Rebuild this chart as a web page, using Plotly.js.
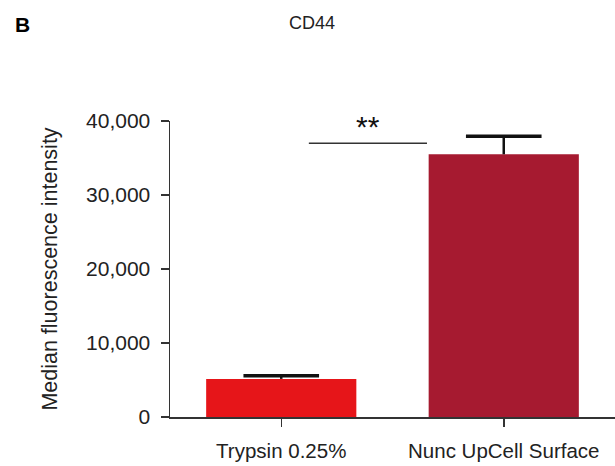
<!DOCTYPE html>
<html>
<head>
<meta charset="utf-8">
<script src="https://cdn.plot.ly/plotly-3.0.1.min.js"></script>
<style>html,body{margin:0;padding:0;background:#fff;}#chart{width:615px;height:466px;}</style>
</head>
<body>
<div id="chart"></div>
<script>
const categories = ["Trypsin 0.25%", "Nunc UpCell Surface"];
const medianValues = [5150, 35500];
const errorValues = [420, 2450];
const yTickVals = [0, 10000, 20000, 30000, 40000];
const yTickText = ["0", "10,000", "20,000", "30,000", "40,000"];
const significance = "**";

const barColors = ["#e61519", "#a61a30"];
const font = "Liberation Sans, Arial, sans-serif";

const bars = {
  type: "bar",
  x: categories,
  y: medianValues,
  width: 0.675,
  marker: {color: barColors, line: {width: 0}},
  error_y: {type: "data", array: errorValues, arrayminus: [0, 0], symmetric: false,
            color: "#111", thickness: 2.5, width: 0},
  hoverinfo: "none"
};
const caps = {
  type: "scatter", mode: "markers",
  x: categories,
  y: medianValues.map((v, i) => v + errorValues[i]),
  marker: {symbol: "line-ew-open", size: 54, color: "#111", line: {width: 3.5, color: "#111"}},
  hoverinfo: "none", cliponaxis: false
};

const layout = {
  width: 615, height: 466,
  margin: {l: 170, r: 0, t: 121, b: 49},
  paper_bgcolor: "#fff", plot_bgcolor: "#fff",
  showlegend: false,
  font: {family: font, color: "#222"},
  xaxis: {
    type: "category", range: [-0.5, 1.5],
    showline: true, linecolor: "#333", linewidth: 1.5,
    ticks: "outside", ticklen: 8, tickwidth: 1.5, tickcolor: "#333",
    showgrid: false, zeroline: false,
    tickfont: {size: 20.5, family: font, color: "#222"},
    ticklabelstandoff: 7
  },
  yaxis: {
    range: [0, 40000],
    tickvals: yTickVals, ticktext: yTickText,
    showline: true, linecolor: "#333", linewidth: 1.5,
    ticks: "outside", ticklen: 8, tickwidth: 1.5, tickcolor: "#333",
    showgrid: false, zeroline: false,
    tickfont: {size: 21, family: font, color: "#222"},
    ticklabelstandoff: 6,
    title: {text: "Median fluorescence intensity", font: {size: 21.5, family: font, color: "#222"}, standoff: 22}
  },
  shapes: [
    {type: "line", xref: "x", yref: "y", x0: 0.124, x1: 0.655, y0: 37000, y1: 37000,
     line: {color: "#333", width: 1.5}}
  ],
  annotations: [
    {text: "CD44", xref: "paper", yref: "paper", x: 0.319, y: 1, yshift: 98, xanchor: "center", yanchor: "middle",
     showarrow: false, font: {size: 18, family: font, color: "#222"}},
    {text: "<b>B</b>", xref: "paper", yref: "paper", x: 0, xshift: -157, y: 1, yshift: 97, xanchor: "left", yanchor: "middle",
     showarrow: false, font: {size: 21, family: font, color: "#000"}},
    {text: significance, xref: "x", yref: "y", x: 0.388, y: 37000, yanchor: "bottom", xanchor: "center", yshift: -2,
     showarrow: false, font: {size: 30, family: font, color: "#111"}}
  ]
};

Plotly.newPlot("chart", [bars, caps], layout, {staticPlot: true, displayModeBar: false});
</script>
</body>
</html>
